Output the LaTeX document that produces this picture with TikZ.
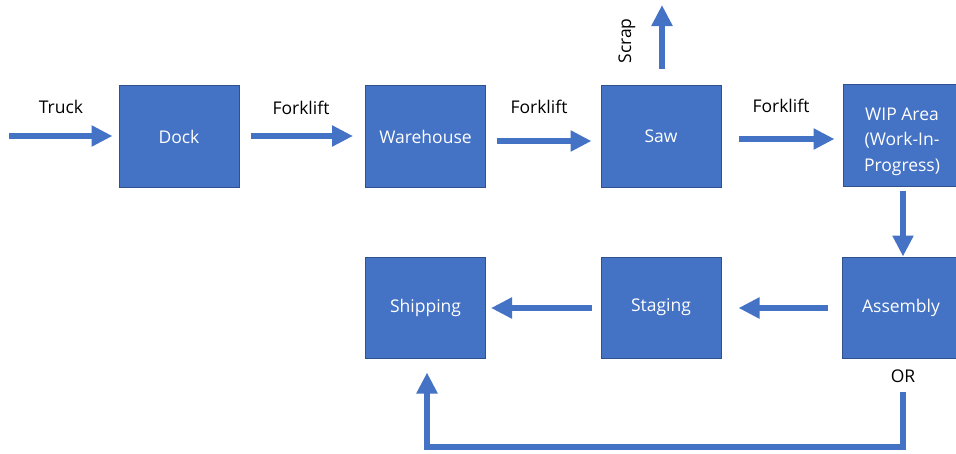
\documentclass[tikz,border=0pt]{standalone}
\usepackage{fontspec}
\setmainfont{Open Sans}
\usetikzlibrary{arrows.meta}
\definecolor{boxfill}{HTML}{4472C4}
\definecolor{boxline}{HTML}{2F528F}
\definecolor{arrowc}{HTML}{4472C4}
\tikzset{
  stepbox/.style={draw=boxline, line width=1pt, fill=boxfill, text=white,
    minimum width=120pt, minimum height=102pt, inner sep=0pt,
    font=\fontsize{17.5}{25.5}\selectfont, align=center},
  flow/.style={draw=arrowc, line width=6.5pt,
    -{Triangle[width=20pt,length=21pt]}},
  lbl/.style={font=\fontsize{17.5}{22}\selectfont, text=black, inner sep=0pt}
}
\begin{document}
\begin{tikzpicture}[x=1pt,y=-1pt]
\useasboundingbox (0,0) rectangle (956,453);
\clip (0,0) rectangle (956,453);
% boxes
\node[stepbox] (dock) at (179,136.5) {Dock};
\node[stepbox] (ware) at (425.5,136.5) {Warehouse};
\node[stepbox] (saw) at (661,136.5) {Saw};
\node[stepbox, minimum width=118pt] (wip) at (902,135.5) {\raisebox{-9.5pt}[0pt][0pt]{\begin{tabular}{@{}c@{}}WIP Area\\(Work-In-\\Progress)\end{tabular}}};
\node[stepbox, minimum width=118pt, minimum height=101pt] (asm) at (901,307.5) {Assembly};
\node[stepbox, minimum height=101pt] (stag) at (661,307.5) {Staging};
\node[stepbox, minimum height=101pt] (ship) at (425.5,307.5) {Shipping};
% free ends
\coordinate (truckstart) at (9,136);
\coordinate (scrapend) at (662,5);
% arrows
\draw[flow, shorten >=6pt] (truckstart) -- (dock.west |- truckstart);
\draw[flow, shorten <=11pt, shorten >=12pt] ([yshift=0.5pt]dock.east) -- ([yshift=0.5pt]ware.west);
\draw[flow, shorten <=11pt, shorten >=9pt] ([yshift=-4.5pt]ware.east) -- ([yshift=-4.5pt]saw.west);
\draw[flow, shorten <=17pt, shorten >=8pt] ([yshift=-2.5pt]saw.east) -- ([yshift=-3.5pt]wip.west);
\draw[flow, shorten <=16pt] ([xshift=1pt]saw.north) -- (scrapend);
\draw[flow, shorten <=4pt, shorten >=0pt] ([xshift=1pt]wip.south) -- ([xshift=2pt]asm.north);
\draw[flow, shorten <=14pt, shorten >=17pt] ([yshift=-0.5pt]asm.west) -- ([yshift=-0.5pt]stag.east);
\draw[flow, shorten <=9pt, shorten >=5pt] ([yshift=-0.5pt]stag.west) -- ([yshift=-0.5pt]ship.east);
\draw[flow, line join=miter, shorten <=33pt, shorten >=14pt] ([xshift=2pt]asm.south) -- ++(0,88.5) -| ([xshift=1.5pt]ship.south);
% labels
\node[lbl] (ltruck) at (61,107) {Truck};
\node[lbl] (lfork1) at (301,108) {Forklift};
\node[lbl] (lfork2) at (539,107) {Forklift};
\node[lbl] (lfork3) at (781,106) {Forklift};
\node[lbl, rotate=90] (lscrap) at (627,41) {Scrap};
\node[lbl] (lor) at (903,376) {OR};
\end{tikzpicture}
\end{document}
